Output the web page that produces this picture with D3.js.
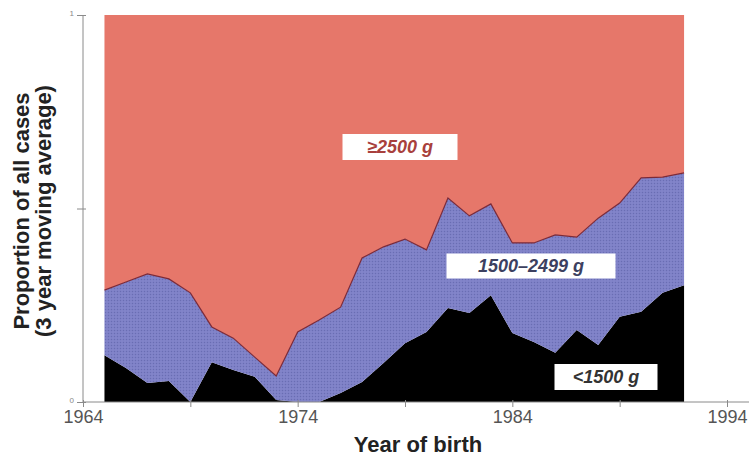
<!DOCTYPE html>
<html><head><meta charset="utf-8">
<script src="https://cdn.jsdelivr.net/npm/d3@7"></script>
<style>body{margin:0;background:#fff}svg{display:block}</style>
</head><body>
<svg id="chart" width="749" height="457"></svg>
<script>
const years = [1965,1966,1967,1968,1969,1970,1971,1972,1973,1974,1975,1976,1977,1978,1979,1980,1981,1982,1983,1984,1985,1986,1987,1988,1989,1990,1991,1992];
const under1500 = [0.121,0.088,0.049,0.054,0.000,0.103,0.083,0.065,0.005,0.000,0.000,0.023,0.052,0.101,0.152,0.181,0.243,0.230,0.276,0.178,0.155,0.127,0.186,0.147,0.220,0.233,0.282,0.302];
const g1500to2499 = [0.168,0.222,0.282,0.264,0.282,0.091,0.082,0.051,0.062,0.181,0.212,0.222,0.320,0.300,0.269,0.212,0.284,0.251,0.236,0.233,0.256,0.305,0.240,0.328,0.294,0.346,0.299,0.290];
const over2500 = years.map((y,i)=> +(1 - under1500[i] - g1500to2499[i]).toFixed(3));
const seriesKeys = ["<1500 g","1500\u20132499 g","\u22652500 g"];
const xTicks = [1964,1969,1974,1979,1984,1989,1994];
const xTickLabels = ["1964","1974","1984","1994"];
const yTicks = [0,0.5,1];
const yTickLabels = ["0","1"];

const rows = years.map((y,i)=>({year:y, "<1500 g":under1500[i], "1500\u20132499 g":g1500to2499[i], "\u22652500 g":over2500[i]}));
const stacked = d3.stack().keys(seriesKeys)(rows);

const svg = d3.select("#chart");
const x = d3.scaleLinear().domain([1964,1994]).range([83,727]);
const y = d3.scaleLinear().domain([0,1]).range([402,15]);

const defs = svg.append("defs");
const pat = defs.append("pattern").attr("id","dots").attr("patternUnits","userSpaceOnUse").attr("width",3).attr("height",3);
pat.append("rect").attr("width",3).attr("height",3).attr("fill","#7d80c6");
pat.append("rect").attr("x",0).attr("y",0).attr("width",1).attr("height",1).attr("fill","#6a6db2");
pat.append("rect").attr("x",1.5).attr("y",1.5).attr("width",1).attr("height",1).attr("fill","#8f92d2");

const colors = ["#000000","url(#dots)","#e6776a"];
const area = d3.area().x(d=>x(d.data.year)).y0(d=>y(d[0])).y1(d=>y(d[1])).curve(d3.curveLinear);

svg.append("g").selectAll("path").data(stacked).join("path")
  .attr("d",area).attr("fill",(d,i)=>colors[i]);

// boundary line between blue and red
svg.append("path").datum(stacked[1])
  .attr("d", d3.line().x(d=>x(d.data.year)).y(d=>y(d[1])))
  .attr("fill","none").attr("stroke","#7a2a3a").attr("stroke-width",1.2);

// axes
const tf = "Liberation Sans, Arial, sans-serif";
const axisColor = "#8a8a8a";
const xAxis = d3.axisBottom(x).tickValues(xTicks).tickSize(5).tickFormat(d=> xTickLabels.includes(String(d)) ? String(d) : "");
const gx = svg.append("g").attr("transform","translate(0,402)").call(xAxis);
gx.select(".domain").attr("d","M83,0H749").attr("stroke",axisColor);
gx.selectAll(".tick line").attr("stroke",axisColor).attr("y1",-2);
gx.selectAll(".tick text").attr("fill","#555").attr("font-family",tf).attr("font-size",18).attr("dy","0.95em").attr("y",4);

const yAxis = d3.axisLeft(y).tickValues(yTicks).tickSize(5).tickFormat(d=> yTickLabels.includes(String(d)) ? String(d) : "");
const gy = svg.append("g").attr("transform","translate(83,0)").call(yAxis);
gy.select(".domain").attr("d","M0,15V402").attr("stroke",axisColor);
gy.selectAll(".tick line").attr("stroke",axisColor).attr("x2",-6).attr("x1",3);
gy.selectAll(".tick text").attr("fill","#888").attr("font-family",tf).attr("font-size",8).attr("x",-9).attr("dy","0.1em");

// axis titles
svg.append("text").attr("x",418).attr("y",452).attr("text-anchor","middle")
  .attr("font-family",tf).attr("font-weight","bold").attr("font-size",22).attr("fill","#222").text("Year of birth");
svg.append("text").attr("transform","translate(29,211) rotate(-90)").attr("text-anchor","middle")
  .attr("font-family",tf).attr("font-weight","bold").attr("font-size",22).attr("fill","#222").text("Proportion of all cases");
svg.append("text").attr("transform","translate(51,211) rotate(-90)").attr("text-anchor","middle")
  .attr("font-family",tf).attr("font-weight","bold").attr("font-size",22).attr("fill","#222").text("(3 year moving average)");

// series labels
const labels = [
  {t:"\u22652500 g", x:400, y:147, w:115, h:26, c:"#a8403c"},
  {t:"1500\u20132499 g", x:531, y:266, w:169, h:25, c:"#3c4060"},
  {t:"<1500 g", x:606, y:377, w:103, h:26, c:"#333333"}
];
const lg = svg.append("g").selectAll("g").data(labels).join("g");
lg.append("rect").attr("x",d=>d.x-d.w/2).attr("y",d=>d.y-d.h/2).attr("width",d=>d.w).attr("height",d=>d.h).attr("fill","#fff");
lg.append("text").attr("x",d=>d.x).attr("y",d=>d.y).attr("dy","0.36em").attr("text-anchor","middle")
  .attr("font-family",tf).attr("font-weight","bold").attr("font-style","italic").attr("font-size",18)
  .attr("fill",d=>d.c).text(d=>d.t);
</script>
</body></html>
